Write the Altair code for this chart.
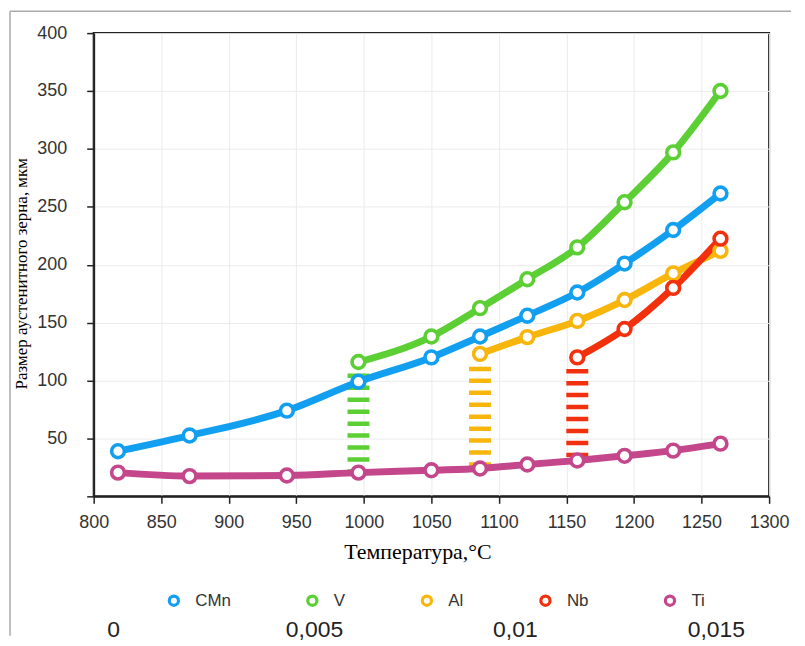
import altair as alt
import pandas as pd

# ---- data ----
temps = [818, 871, 943, 996, 1050, 1086, 1121, 1158, 1193, 1229, 1264]
cmn = [39, 52.5, 74, 99, 120, 138, 156, 176, 201, 230, 261.5]
v_temps = [996, 1050, 1086, 1121, 1158, 1193, 1229, 1264]
v_vals = [116, 138, 162.5, 187.5, 215, 254, 297, 350]
al_temps = [1086, 1121, 1158, 1193, 1229, 1264]
al_vals = [123, 137.5, 151.5, 169.5, 192.5, 212]
nb_temps = [1158, 1193, 1229, 1264]
nb_vals = [120, 144.5, 180, 222.5]
ti = [20.5, 17.5, 18, 20.5, 22.5, 24, 27.5, 31, 35, 39.5, 45.5]

series_names = ["CMn", "V", "Al", "Nb", "Ti"]
series_colors = ["#139ff0", "#5ccf35", "#f8b60c", "#f2300e", "#c4478c"]

# dashed connectors (series, temperature, top, bottom)
rule_series = ["V", "Al", "Nb"]
rule_temps = [996, 1086, 1158]
rule_top = [106, 112, 110]
rule_bottom = [21, 26, 33]

# secondary scale labels at the bottom
conc_values = [0, 0.005, 0.01, 0.015]
conc_labels = ["0", "0,005", "0,01", "0,015"]

x_ticks = list(range(800, 1301, 50))
y_ticks = list(range(0, 401, 50))

# ---- tables ----
rows = []
for t, val in zip(temps, cmn):
    rows.append({"temp": t, "size": val, "series": "CMn"})
for t, val in zip(v_temps, v_vals):
    rows.append({"temp": t, "size": val, "series": "V"})
for t, val in zip(al_temps, al_vals):
    rows.append({"temp": t, "size": val, "series": "Al"})
for t, val in zip(nb_temps, nb_vals):
    rows.append({"temp": t, "size": val, "series": "Nb"})
for t, val in zip(temps, ti):
    rows.append({"temp": t, "size": val, "series": "Ti"})
df = pd.DataFrame(rows)

rule_df = pd.DataFrame({"series": rule_series, "temp": rule_temps,
                        "size": rule_top, "bottom": rule_bottom})
conc_df = pd.DataFrame({"conc": conc_values, "label": conc_labels})
one = pd.DataFrame({"a": [0]})

SANS = "Liberation Sans"
SERIF = "Liberation Serif"

x_enc = alt.X(
    "temp:Q",
    scale=alt.Scale(domain=[800, 1300], nice=False, zero=False),
    axis=alt.Axis(values=x_ticks, title="Температура,°C", format="d",
                  titleFont=SERIF, titleFontSize=22, titleFontWeight="normal",
                  titleColor="#000", titlePadding=10, titleX=325,
                  labelFont=SANS, labelFontSize=18, labelColor="#333",
                  labelPadding=10, tickSize=7, labelFlush=False),
)
y_enc = alt.Y(
    "size:Q",
    scale=alt.Scale(domain=[0, 400], nice=False),
    axis=alt.Axis(values=y_ticks, title="Размер аустенитного зерна, мкм",
                  labelExpr="datum.value == 0 ? '' : datum.label",
                  titleFont=SERIF, titleFontSize=17, titleFontWeight="normal",
                  titleColor="#000", titlePadding=6, titleY=241,
                  labelFont=SANS, labelFontSize=18, labelColor="#333",
                  labelPadding=20, tickSize=7, labelFlush=False),
)
stroke_enc = alt.Stroke(
    "series:N",
    scale=alt.Scale(domain=series_names, range=series_colors),
    sort=series_names,
    legend=alt.Legend(orient="none", legendX=72, legendY=561,
                      direction="horizontal", columns=5, title=None,
                      symbolType="circle", symbolFillColor="white",
                      symbolStrokeWidth=3.2, symbolSize=85,
                      labelFont=SANS, labelFontSize=17, labelColor="#333",
                      labelOffset=13, columnPadding=70, padding=0),
)

rules = alt.Chart(rule_df).mark_rule(strokeWidth=22, strokeDash=[4.5, 7.5]).encode(
    x=x_enc, y=y_enc, y2="bottom:Q", stroke=stroke_enc
)
lines = alt.Chart(df).mark_line(strokeWidth=7, interpolate="monotone").encode(
    x=x_enc, y=y_enc, stroke=stroke_enc
)
points = alt.Chart(df).mark_point(filled=True, fill="white", size=165,
                                  strokeWidth=3.6, opacity=1).encode(
    x=x_enc, y=y_enc, stroke=stroke_enc
)
bottom_text = alt.Chart(conc_df).mark_text(font=SANS, fontSize=23, color="#222",
                                           baseline="middle").encode(
    x=alt.X("conc:Q", scale=alt.Scale(domain=[0, 0.015], range=[20, 625]), axis=None),
    y=alt.value(599),
    text="label:N",
)
frame_left = alt.Chart(one).mark_rule(color="#aaaaaa", strokeWidth=1.5).encode(
    x=alt.value(-84), y=alt.value(-22), y2=alt.value(605)
)
frame_top = alt.Chart(one).mark_rule(color="#aaaaaa", strokeWidth=1.5).encode(
    x=alt.value(-84), x2=alt.value(700), y=alt.value(-22)
)

main = alt.layer(rules, lines, points)

chart = alt.layer(frame_left, frame_top, main, bottom_text).resolve_scale(
    x="independent"
).properties(
    width=678, height=465,
    padding={"left": 1, "top": 1, "right": 5, "bottom": 0},
    background="white",
).configure_view(
    stroke="#222", strokeWidth=2
).configure_axis(
    domainColor="#222", domainWidth=2, tickColor="#222", tickWidth=1.5,
    gridColor="#ebebeb", gridWidth=1, grid=True
)

chart.save("out.html", embed_options={"renderer": "svg", "actions": False})
